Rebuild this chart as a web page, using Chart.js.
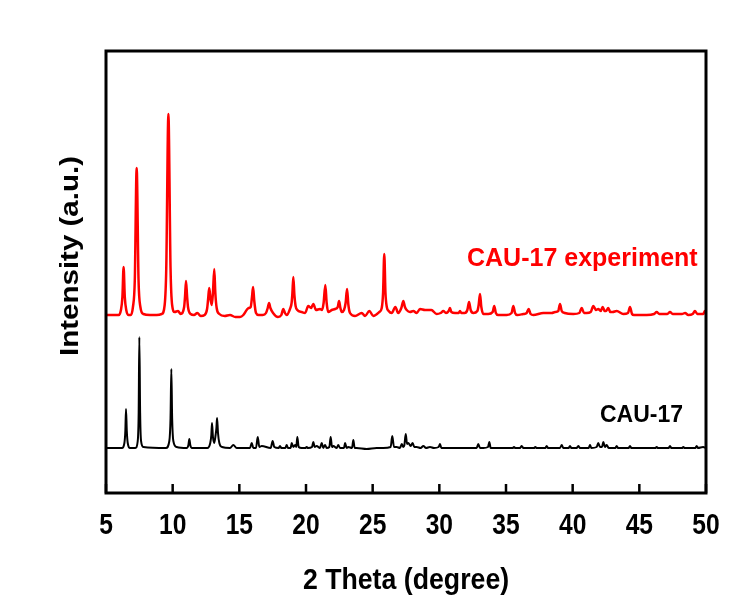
<!DOCTYPE html>
<html>
<head>
<meta charset="utf-8">
<script src="https://cdn.jsdelivr.net/npm/chart.js@4.4.0/dist/chart.umd.min.js"></script>
<style>
  html, body { margin: 0; padding: 0; background: #fff; }
  #wrap { width: 753px; height: 609px; }
</style>
</head>
<body>
<div id="wrap"><canvas id="xrd" width="753" height="609"></canvas></div>
<script>
  'use strict';

  /* XRD data (offset as plotted, arbitrary units) */
  const expTheta = [
    5.0, 5.5, 5.95, 6.12, 6.23, 6.32, 6.41, 6.52, 6.7, 6.85, 7.02, 7.16, 7.3, 7.44, 7.58, 7.8,
    8.3, 8.8, 9.18, 9.4, 9.52, 9.68, 9.84, 9.96, 10.15, 10.4, 10.6, 10.86, 10.93, 11.0, 11.08, 11.15,
    11.35, 11.6, 11.85, 12.1, 12.4, 12.58, 12.66, 12.74, 12.84, 12.93, 13.02, 13.12, 13.2, 13.3, 13.5,
    13.9, 14.3, 14.7, 15.05, 15.3, 15.55, 15.7, 15.85, 15.95, 16.03, 16.12, 16.25, 16.45, 16.75,
    17.0, 17.13, 17.23, 17.33, 17.53, 17.9, 18.15, 18.3, 18.42, 18.55, 18.8, 18.92, 18.98, 19.05,
    19.13, 19.22, 19.35, 19.68, 19.93, 20.17, 20.38, 20.55, 20.75, 21.05, 21.2, 21.32, 21.45, 21.55,
    21.67, 21.93, 22.18, 22.38, 22.48, 22.58, 22.68, 22.85, 22.97, 23.08, 23.18, 23.3, 23.68, 24.18,
    24.43, 24.75, 25.05, 25.5, 25.68, 25.78, 25.87, 25.96, 26.06, 26.2, 26.43, 26.7, 26.92, 27.15,
    27.3, 27.42, 27.55, 27.8, 28.05, 28.3, 28.55, 28.93, 29.4, 29.8, 30.1, 30.3, 30.5, 30.7, 30.8,
    30.9, 31.18, 31.45, 31.55, 31.65, 31.9, 32.1, 32.23, 32.35, 32.55, 32.85, 32.95, 33.05, 33.15,
    33.3, 33.67, 34.0, 34.12, 34.24, 34.42, 35.05, 35.42, 35.55, 35.68, 35.85, 36.3, 36.55, 36.7,
    36.85, 37.05, 37.8, 38.43, 38.68, 38.92, 39.05, 39.18, 39.4, 40.05, 40.5, 40.68, 40.85, 41.05,
    41.35, 41.55, 41.75, 41.92, 42.1, 42.25, 42.4, 42.5, 42.67, 42.82, 43.0, 43.3, 43.8, 44.15,
    44.3, 44.45, 44.6, 45.55, 46.1, 46.3, 46.5, 46.8, 47.1, 47.3, 47.5, 47.92, 48.2, 48.43, 48.67,
    49.0, 49.17, 49.35, 49.55, 49.8, 49.92, 50.0
  ];
  const expIntensity = [
    178, 178, 178, 183, 196, 226, 196, 183, 178, 178, 186, 213, 325, 213, 186, 179,
    178, 178, 179, 188, 225, 379, 225, 188, 181, 182, 179, 186, 197, 212, 197, 186,
    179, 178, 180, 177, 178, 184, 194, 205, 194, 188, 200, 224, 200, 185, 179,
    177, 178, 176, 176, 178, 183, 185, 186, 196, 206, 192, 180, 178, 178,
    180, 185, 190, 185, 180, 176, 178, 184, 180, 178, 184, 190, 200, 216,
    198, 187, 183, 181, 180, 187, 185, 189, 183, 184, 183, 190, 208, 190,
    181, 183, 184, 186, 192, 185, 181, 183, 190, 204, 188, 180, 177, 180,
    177, 182, 177, 181, 185, 200, 239, 200, 186, 182, 180, 186, 180, 185,
    192, 186, 183, 181, 182, 180, 184, 183, 183, 179, 180, 182, 180, 182, 185,
    181, 180, 180, 182, 180, 180, 183, 191, 183, 180, 182, 188, 199, 186,
    179, 179, 181, 187, 180, 178, 178, 180, 187, 180, 178, 179, 180, 184,
    179, 178, 180, 180, 181, 182, 189, 182, 180, 179, 180, 185, 180, 180,
    181, 187, 183, 184, 182, 186, 182, 182, 185, 181, 181, 182, 179, 180,
    186, 179, 178, 178, 179, 181, 179, 179, 179, 181, 179, 179, 179, 180, 178,
    179, 182, 179, 179, 179, 182, 181
  ];

  const simTheta = [
    5.0, 6.2, 6.38, 6.45, 6.5, 6.56, 6.63, 6.8, 7.2, 7.38, 7.45, 7.5, 7.56, 7.63, 7.8,
    9.5, 9.75, 9.84, 9.9, 9.96, 10.05, 10.3, 11.05, 11.18, 11.25, 11.32, 11.45,
    12.6, 12.82, 12.9, 12.95, 13.02, 13.12, 13.22, 13.28, 13.33, 13.4, 13.5, 13.7,
    14.3, 14.55, 14.8, 15.8, 15.93, 16.05, 16.25, 16.38, 16.5, 16.68, 17.35, 17.5, 17.62,
    17.95, 18.05, 18.15, 18.45, 18.55, 18.65, 18.85, 18.93, 19.05, 19.2, 19.27, 19.35, 19.45,
    19.68, 19.95, 20.05, 20.15, 20.45, 20.55, 20.65, 20.8, 21.05, 21.18, 21.3, 21.43, 21.55,
    21.75, 21.85, 21.95, 22.05, 22.3, 22.42, 22.55, 22.85, 22.93, 23.05, 23.17, 23.45, 23.55,
    23.65, 23.8, 24.55, 25.3, 25.8, 26.35, 26.47, 26.6, 26.8, 27.05, 27.18, 27.3, 27.38, 27.48,
    27.58, 27.67, 27.85, 28.0, 28.12, 28.3, 28.6, 28.8, 29.0, 29.3, 29.6, 29.95, 30.05, 30.15,
    30.55, 31.3, 32.05, 32.8, 32.92, 33.05, 33.3, 33.65, 33.75, 33.85, 34.05, 35.0, 35.5, 35.6,
    35.7, 36.05, 36.18, 36.3, 37.1, 37.2, 37.3, 37.95, 38.05, 38.15, 39.05, 39.18, 39.3, 39.7,
    39.8, 39.9, 40.3, 40.42, 40.55, 41.2, 41.3, 41.4, 41.8, 41.92, 42.05, 42.2, 42.3, 42.42,
    42.55, 42.7, 43.2, 43.3, 43.4, 44.2, 44.3, 44.4, 45.3, 46.2, 46.3, 46.4, 47.2, 47.3, 47.4,
    48.2, 48.3, 48.4, 49.2, 49.3, 49.4, 49.78, 50.0
  ];
  const simIntensity = [
    45, 45, 50, 62, 84, 62, 50, 45, 45, 52, 80, 156, 80, 52, 46,
    45, 52, 75, 124, 75, 52, 46, 45, 48, 54, 48, 45,
    45, 50, 58, 70, 56, 50, 58, 65, 75, 60, 50, 46,
    45, 48, 45, 45, 50, 45, 45, 56, 46, 47, 45, 52, 46,
    45, 47, 45, 45, 48, 45, 45, 50, 46, 48, 46, 56, 46,
    45, 45, 46, 45, 46, 51, 46, 47, 45, 50, 45, 48, 45,
    46, 56, 46, 47, 45, 48, 45, 45, 50, 45, 46, 45, 53,
    45, 45, 44, 45, 45, 46, 57, 46, 46, 45, 49, 46, 48, 59,
    49, 50, 47, 50, 46, 46, 45, 47, 45, 46, 45, 46, 49, 45,
    45, 45, 45, 45, 49, 45, 45, 46, 51, 45, 45, 45, 45, 46,
    45, 45, 47, 45, 45, 46, 45, 45, 47, 45, 45, 48, 45, 45,
    47, 45, 45, 47, 45, 45, 48, 45, 46, 50, 46, 46, 51, 46,
    48, 45, 45, 47, 45, 45, 47, 45, 45, 45, 46, 45, 45, 47, 45,
    45, 46, 45, 45, 47, 45, 46, 45
  ];

  const xTicks = [5, 10, 15, 20, 25, 30, 35, 40, 45, 50];
  const seriesLabels = ['CAU-17 experiment', 'CAU-17'];
  const seriesColors = ['#ff0000', '#000000'];

  const toPoints = (xs, ys) => xs.map((v, i) => ({ x: v, y: ys[i] }));
  const FONT = '"Liberation Sans", Arial, sans-serif';

  /* condensed bold text, like the original export */
  function squeezedText(ctx, text, x, y, size, sx, angle) {
    ctx.save();
    ctx.translate(x, y);
    if (angle) ctx.rotate(angle);
    ctx.scale(sx, 1);
    ctx.font = 'bold ' + size + 'px ' + FONT;
    ctx.fillText(text, 0, 0);
    ctx.restore();
  }

  /* box, inward ticks, tick labels, titles and in-plot labels */
  const framePlugin = {
    id: 'frame',
    afterDatasetsDraw(chart) {
      const { ctx, chartArea: a, scales: { x } } = chart;
      ctx.save();
      ctx.strokeStyle = '#000';
      ctx.lineWidth = 3;
      ctx.strokeRect(a.left, a.top, a.right - a.left, a.bottom - a.top);
      ctx.lineWidth = 2.5;
      xTicks.forEach(v => {
        const px = x.getPixelForValue(v);
        ctx.beginPath();
        ctx.moveTo(px, a.bottom);
        ctx.lineTo(px, a.bottom - 9);
        ctx.stroke();
      });

      ctx.fillStyle = '#000';
      ctx.textAlign = 'center';
      ctx.textBaseline = 'alphabetic';
      xTicks.forEach(v => {
        squeezedText(ctx, String(v), x.getPixelForValue(v), 534, 30, 0.82);
      });
      squeezedText(ctx, '2 Theta (degree)', (a.left + a.right) / 2, 589, 30, 0.89);

      ctx.textBaseline = 'middle';
      squeezedText(ctx, 'Intensity (a.u.)', 71, 256, 25, 1.18, -Math.PI / 2);

      ctx.textBaseline = 'alphabetic';
      ctx.textAlign = 'left';
      ctx.font = 'bold 25px ' + FONT;
      ctx.fillStyle = seriesColors[0];
      ctx.fillText(seriesLabels[0], 467, 266);
      ctx.font = 'bold 23px ' + FONT;
      ctx.fillStyle = seriesColors[1];
      ctx.fillText(seriesLabels[1], 600, 422);
      ctx.restore();
    }
  };

  new Chart(document.getElementById('xrd'), {
    type: 'line',
    data: {
      datasets: [
        {
          label: seriesLabels[0],
          data: toPoints(expTheta, expIntensity),
          borderColor: seriesColors[0],
          borderWidth: 2.5,
          pointRadius: 0,
          cubicInterpolationMode: 'monotone'
        },
        {
          label: seriesLabels[1],
          data: toPoints(simTheta, simIntensity),
          borderColor: seriesColors[1],
          borderWidth: 2,
          pointRadius: 0,
          cubicInterpolationMode: 'monotone'
        }
      ]
    },
    options: {
      responsive: false,
      animation: false,
      devicePixelRatio: 1,
      layout: { padding: { top: 51, right: 47, left: 0, bottom: 0 } },
      plugins: { legend: { display: false }, tooltip: { enabled: false } },
      scales: {
        x: {
          type: 'linear',
          min: 5,
          max: 50,
          afterBuildTicks: s => { s.ticks = xTicks.map(v => ({ value: v })); },
          afterFit: s => { s.height = 116; },
          grid: { display: false, drawTicks: false },
          border: { display: false },
          ticks: { display: false }
        },
        y: {
          type: 'linear',
          min: 0,
          max: 442,
          afterFit: s => { s.width = 106; },
          grid: { display: false },
          border: { display: false },
          ticks: { display: false }
        }
      }
    },
    plugins: [framePlugin]
  });
</script>
</body>
</html>
